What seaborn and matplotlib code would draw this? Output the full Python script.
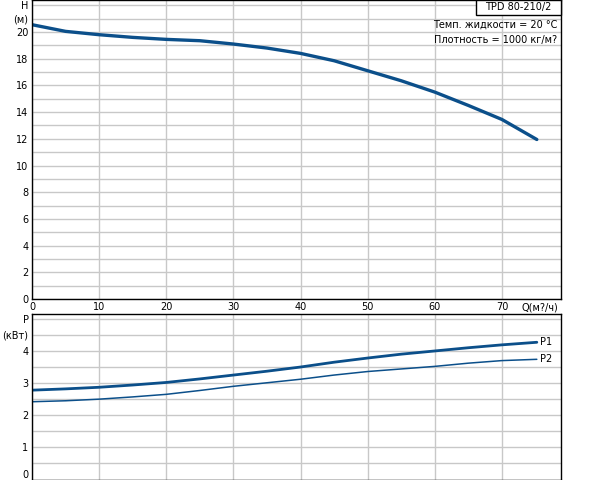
import matplotlib
matplotlib.use("Agg")
import matplotlib.pyplot as plt
from matplotlib.patches import Rectangle
import seaborn as sns
import pandas as pd

# Данные кривых насоса
q = [0, 5, 10, 15, 20, 25, 30, 35, 40, 45, 50, 55, 60, 65, 70, 75.2]
h = [20.55, 20.05, 19.8, 19.6, 19.45, 19.35, 19.1, 18.8, 18.4, 17.85, 17.1, 16.35, 15.5, 14.5, 13.45, 11.95]
p1 = [2.78, 2.82, 2.87, 2.94, 3.02, 3.13, 3.25, 3.37, 3.5, 3.65, 3.78, 3.9, 4.0, 4.1, 4.19, 4.27]
p2 = [2.42, 2.45, 2.5, 2.57, 2.65, 2.77, 2.9, 3.01, 3.12, 3.25, 3.36, 3.44, 3.52, 3.62, 3.7, 3.74]

x_ticks = [0, 10, 20, 30, 40, 50, 60, 70]
title = "TPD 80-210/2"
info = ["Темп. жидкости = 20 °C", "Плотность = 1000 кг/м?"]

df = pd.DataFrame({"Q": q, "H": h, "P1": p1, "P2": p2})

sns.set_style("white")
plt.rcParams["font.family"] = ["DejaVu Sans"]
plt.rcParams["text.color"] = "black"
color = "#0b4f8a"
grid_c = "#c8c8c8"
fs = 7

fig = plt.figure(figsize=(5.92, 4.8), dpi=100)
ax1 = fig.add_axes([32 / 592, 181 / 480, 529 / 592, 299 / 480])
ax2 = fig.add_axes([32 / 592, 0.5 / 480, 529 / 592, 165.5 / 480])

sns.lineplot(data=df, x="Q", y="H", ax=ax1, color=color, linewidth=2.4)
sns.lineplot(data=df, x="Q", y="P1", ax=ax2, color=color, linewidth=2.0)
sns.lineplot(data=df, x="Q", y="P2", ax=ax2, color=color, linewidth=1.1)

for ax in (ax1, ax2):
    ax.set_xlim(0, 78.8)
    ax.set_xticks(x_ticks)
    ax.grid(True, color=grid_c, linewidth=1)
    ax.set_axisbelow(True)
    ax.set_xlabel("")
    ax.set_ylabel("")
    ax.tick_params(length=0, labelsize=fs, pad=2.5, labelcolor="black")
    for s in ax.spines.values():
        s.set_color("black")
        s.set_linewidth(1)

ax1.set_ylim(0, 22.4)
ax1.set_yticks(range(0, 23))
ax1.set_yticklabels([str(v) if v % 2 == 0 and v <= 20 else "" for v in range(0, 21)] + ["(м)", "H"])
ax1.set_xticklabels([str(v) for v in x_ticks])
ax1.text(75.7, -0.26, "Q(м?/ч)", ha="center", va="top", fontsize=fs)

ax2.set_ylim(0, 5.15)
yt = [i * 0.5 for i in range(11)]
ax2.set_yticks(yt)
ax2.set_yticklabels([str(int(v)) if v == int(v) and v <= 4 else "" for v in yt[:9]] + ["(кВт)", "P"])
ax2.set_xticklabels([])
ax2.get_yticklabels()[0].set_va("bottom")

ax2.text(q[-1] + 0.5, p1[-1], "P1", va="center", ha="left", fontsize=fs)
ax2.text(q[-1] + 0.5, p2[-1], "P2", va="center", ha="left", fontsize=fs)

# Подписи в правом верхнем углу
ax1.text(0.993, 0.916, info[0], transform=ax1.transAxes, ha="right", va="center", fontsize=fs)
ax1.text(0.993, 0.866, info[1], transform=ax1.transAxes, ha="right", va="center", fontsize=fs)
ax1.add_patch(Rectangle((0.839, 0.95), 0.161, 0.05, transform=ax1.transAxes,
                        fc="white", ec="black", lw=1, zorder=5, clip_on=False))
ax1.text(0.92, 0.975, title, transform=ax1.transAxes, ha="center", va="center",
         fontsize=fs, zorder=6)

fig.savefig("out.png", dpi=100)
